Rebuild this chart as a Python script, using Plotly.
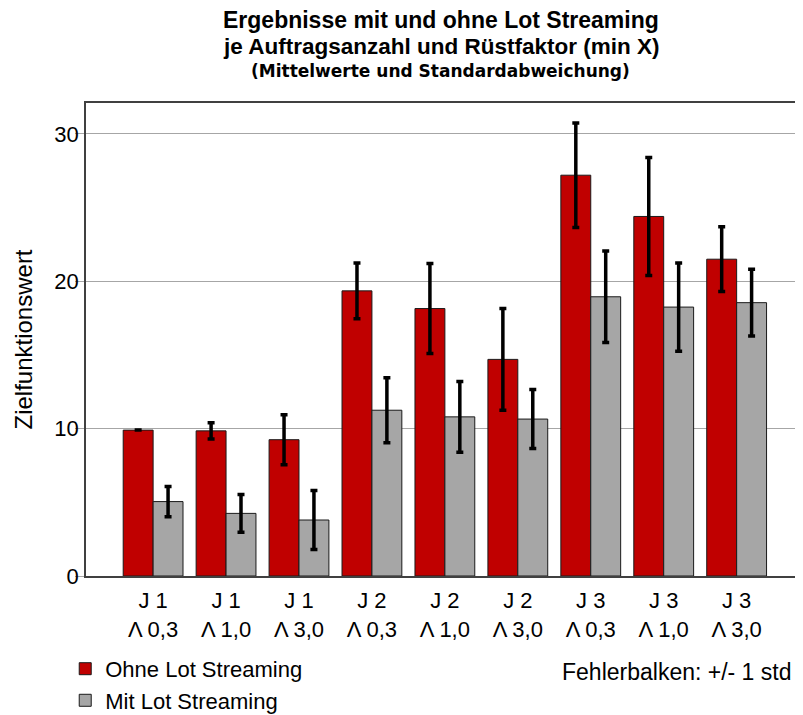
import plotly.graph_objects as go

# categories: job count J and setup factor Lambda
jobs = ["J 1", "J 1", "J 1", "J 2", "J 2", "J 2", "J 3", "J 3", "J 3"]
lambdas = ["Λ 0,3", "Λ 1,0", "Λ 3,0"] * 3
categories = [f"{j}<br>{l}" for j, l in zip(jobs, lambdas)]

# means and standard deviations
ohne_mean = [9.9, 9.85, 9.25, 19.35, 18.15, 14.7, 27.2, 24.4, 21.5]
ohne_std = [0.0, 0.55, 1.7, 1.9, 3.05, 3.45, 3.55, 4.0, 2.2]
mit_mean = [5.05, 4.25, 3.8, 11.25, 10.8, 10.65, 18.95, 18.25, 18.55]
mit_std = [1.03, 1.28, 2.0, 2.2, 2.4, 2.0, 3.1, 3.0, 2.27]

font = "Liberation Sans, Arial, sans-serif"
x_idx = list(range(len(categories)))

fig = go.Figure()

# bars without lot streaming
fig.add_trace(go.Bar(
    x=x_idx, y=ohne_mean, name="Ohne Lot Streaming",
    marker=dict(color="#C00000", line=dict(color="#1a1a1a", width=1)),
    error_y=dict(type="data", array=ohne_std, color="black", thickness=3.5, width=3.5),
))

# bars with lot streaming
fig.add_trace(go.Bar(
    x=x_idx, y=mit_mean, name="Mit Lot Streaming",
    marker=dict(color="#A6A6A6", line=dict(color="#1a1a1a", width=1)),
    error_y=dict(type="data", array=mit_std, color="black", thickness=3.5, width=3.5),
))

# page body has an 8px margin, so the figure is a bit smaller than the window
fig.update_layout(
    width=787,
    height=707,
    margin=dict(l=78, r=0, t=95, b=139, autoexpand=False),
    plot_bgcolor="white",
    paper_bgcolor="white",
    font=dict(family=font, color="black"),
    barmode="group",
    bargap=0.18,
    bargroupgap=0,
    showlegend=True,
    legend=dict(
        x=-0.0293, y=-0.152, xanchor="left", yanchor="top",
        font=dict(family=font, size=22, color="black"),
        bgcolor="rgba(0,0,0,0)", tracegroupgap=0, itemwidth=30,
    ),
)

# three title lines
title_lines = [
    ("<b>Ergebnisse mit und ohne Lot Streaming</b>", 1.1755, 23, font),
    ("<b>je Auftragsanzahl und Rüstfaktor (min X)</b>", 1.1205, 22.5, font),
    ("<b>(Mittelwerte und Standardabweichung)</b>", 1.0677, 17, "DejaVu Sans, sans-serif"),
]
for txt, ypos, size, fam in title_lines:
    fig.add_annotation(
        text=txt, xref="paper", yref="paper", x=0.5007, y=ypos,
        xanchor="center", yanchor="middle", showarrow=False,
        font=dict(family=fam, size=size, color="black"),
    )

fig.update_xaxes(
    tickmode="array", tickvals=x_idx, ticktext=categories,
    range=[-0.92, 8.8], automargin=False,
    showline=True, linecolor="#404040", linewidth=1.5, mirror=True,
    ticks="", ticklabelstandoff=4, tickfont=dict(family=font, size=22, color="black"),
    showgrid=False,
)

fig.update_yaxes(
    range=[0, 32.1], automargin=False,
    tickvals=[0, 10, 20, 30],
    showgrid=True, gridcolor="#A6A6A6", gridwidth=1,
    zeroline=False,
    showline=True, linecolor="#404040", linewidth=1.5,
    ticks="outside", ticklen=9, tickcolor="#A6A6A6", ticklabelstandoff=-8,
    tickfont=dict(family=font, size=22, color="black"),
    title=dict(text="Zielfunktionswert", font=dict(family=font, size=24, color="black"), standoff=15),
)

fig.add_annotation(
    text="Fehlerbalken: +/- 1 std",
    xref="paper", yref="paper", x=0.997, y=-0.203,
    xanchor="right", yanchor="middle", showarrow=False,
    font=dict(family=font, size=23, color="black"),
)

fig.write_html("out.html")
